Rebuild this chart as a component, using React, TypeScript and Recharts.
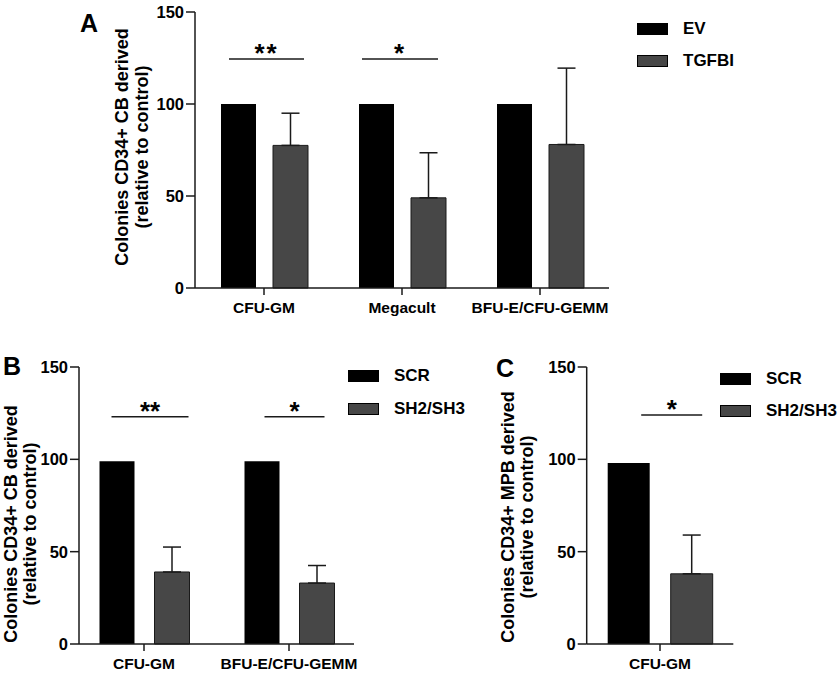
import { BarChart, Bar, XAxis, YAxis, ErrorBar, Legend } from 'recharts';

const FONT = '"Liberation Sans", Arial, Helvetica, sans-serif';
const BLACK = '#000000';
const GREY = '#474747';
const INK = '#1a1a1a';

// Panel A: EV vs TGFBI, CD34+ CB
const categoriesA = ['CFU-GM', 'Megacult', 'BFU-E/CFU-GEMM'];
const evA = [100, 100, 100];
const tgfbiA = [77.5, 49, 78];
const tgfbiErrA = [17.5, 24.5, 41.5];
const sigA = [124.5, 124.5, null];
const starsA = ['**', '*', ''];

// Panel B: SCR vs SH2/SH3, CD34+ CB
const categoriesB = ['CFU-GM', 'BFU-E/CFU-GEMM'];
const scrB = [99, 99];
const shB = [39, 33];
const shErrB = [13.5, 9.5];
const sigB = [123, 123];
const starsB = ['**', '*'];

// Panel C: SCR vs SH2/SH3, CD34+ MPB
const categoriesC = ['CFU-GM'];
const scrC = [98];
const shC = [38];
const shErrC = [21];
const sigC = [124];
const starsC = ['*'];

const yTicks = [0, 50, 100, 150];

function buildRows(
  cats: string[],
  ctrl: number[],
  treat: number[],
  err: number[],
  sig: (number | null)[],
  stars: string[]
) {
  return cats.map((name, i) => ({
    name,
    ctrl: ctrl[i],
    treat: treat[i],
    err: [0, err[i]] as [number, number],
    sig: sig[i],
    stars: stars[i],
  }));
}

type PanelProps = {
  rows: ReturnType<typeof buildRows>;
  names: [string, string];
  box: { left: number; top: number; width: number; height: number };
  margin: { top: number; right: number; bottom: number; left: number };
  barSize: number;
  barGap: number;
  pad: number;
  letter: string;
  title: string[];
  // title layout, relative to the y axis line / plot top
  titleDx: [number, number];
  titleCy: number;
  letterPos: { dx: number; dy: number };
  legendPos: { left: number; top: number };
  sigSpans: { dx: number; w: number }[];
  starSpacing: number;
};

const LegendBox = (props: any) => {
  const items = (props.payload || []).filter((p: any) => p.dataKey !== 'sig');
  return (
    <div style={{ fontFamily: FONT }}>
      {items.map((p: any) => (
        <div key={p.value} style={{ display: 'flex', alignItems: 'center', height: 32.5 }}>
          <span
            style={{
              display: 'inline-block',
              width: 31,
              height: 12,
              background: p.color,
              border: '1px solid #000',
              boxSizing: 'border-box',
              marginRight: 15,
            }}
          />
          <span style={{ fontSize: 17, fontWeight: 700, color: '#000' }}>{p.value}</span>
        </div>
      ))}
    </div>
  );
};

function Panel(p: PanelProps) {
  const yTitle = (lp: any) => {
    const vb = lp.viewBox;
    const axisX = vb.x + vb.width;
    const cy = vb.y + p.titleCy;
    return (
      <g>
        <text
          x={axisX + p.letterPos.dx}
          y={vb.y + p.letterPos.dy}
          fontSize={25}
          fontWeight={700}
          fill="#000"
        >
          {p.letter}
        </text>
        {p.title.map((line, i) => {
          const x = axisX + p.titleDx[i];
          return (
            <text
              key={i}
              x={x}
              y={cy}
              transform={`rotate(-90 ${x} ${cy})`}
              textAnchor="middle"
              dominantBaseline="central"
              fontSize={18}
              fontWeight={700}
              fill="#000"
            >
              {line}
            </text>
          );
        })}
      </g>
    );
  };

  const sigShape = (sp: any) => {
    const { x, y, width, payload, index } = sp;
    if (payload.sig == null) return <g />;
    const span = p.sigSpans[index];
    const cx = x + width / 2 + span.dx;
    return (
      <g>
        <line x1={cx - span.w / 2} x2={cx + span.w / 2} y1={y} y2={y} stroke={INK} strokeWidth={1.5} />
        <text
          x={cx}
          y={y + 3}
          textAnchor="middle"
          fontSize={26}
          fontWeight={700}
          letterSpacing={p.starSpacing}
          fill="#000"
        >
          {payload.stars}
        </text>
      </g>
    );
  };

  return (
    <div style={{ position: 'absolute', left: p.box.left, top: p.box.top }}>
      <BarChart
        width={p.box.width}
        height={p.box.height}
        data={p.rows}
        margin={p.margin}
        barSize={p.barSize}
        barGap={p.barGap}
        style={{ fontFamily: FONT }}
      >
        <XAxis
          dataKey="name"
          height={30}
          padding={{ left: p.pad, right: p.pad }}
          axisLine={{ stroke: INK, strokeWidth: 1.5 }}
          tickLine={{ stroke: INK, strokeWidth: 1.5 }}
          tickSize={7}
          tickMargin={7}
          tick={{ fontSize: 15.5, fontWeight: 700, fill: '#000' }}
          interval={0}
        />
        <XAxis xAxisId="sig" dataKey="name" hide padding={{ left: p.pad, right: p.pad }} />
        <YAxis
          width={60}
          domain={[0, 150]}
          ticks={yTicks}
          interval={0}
          axisLine={{ stroke: INK, strokeWidth: 1.5 }}
          tickLine={{ stroke: INK, strokeWidth: 1.5 }}
          tickSize={9}
          tickMargin={2}
          tick={{ fontSize: 16.5, fontWeight: 700, fill: '#000' }}
          label={yTitle}
        />
        <Bar dataKey="ctrl" name={p.names[0]} fill={BLACK} isAnimationActive={false} />
        <Bar
          dataKey="treat"
          name={p.names[1]}
          fill={GREY}
          stroke={INK}
          strokeWidth={1}
          isAnimationActive={false}
        >
          <ErrorBar dataKey="err" width={9} stroke={INK} strokeWidth={1.5} />
        </Bar>
        <Bar
          dataKey="sig"
          xAxisId="sig"
          barSize={10}
          legendType="none"
          shape={sigShape}
          isAnimationActive={false}
        />
        <Legend
          layout="vertical"
          align="center"
          verticalAlign="middle"
          content={<LegendBox />}
          wrapperStyle={{ left: p.legendPos.left, top: p.legendPos.top, width: 'auto' }}
        />
      </BarChart>
    </div>
  );
}

export default function App() {
  const rowsA = buildRows(categoriesA, evA, tgfbiA, tgfbiErrA, sigA, starsA);
  const rowsB = buildRows(categoriesB, scrB, shB, shErrB, sigB, starsB);
  const rowsC = buildRows(categoriesC, scrC, shC, shErrC, sigC, starsC);

  return (
    <div style={{ position: 'absolute', left: 0, top: 0, width: 840, height: 675, background: '#fff' }}>
      <Panel
        rows={rowsA}
        names={['EV', 'TGFBI']}
        box={{ left: 0, top: 0, width: 840, height: 330 }}
        margin={{ top: 12, right: 231, bottom: 12, left: 135 }}
        barSize={35}
        barGap={17}
        pad={0}
        letter="A"
        title={['Colonies CD34+ CB derived', '(relative to control)']}
        titleDx={[-73, -53]}
        titleCy={135}
        letterPos={{ dx: -115, dy: 20 }}
        legendPos={{ left: 637, top: 12.5 }}
        sigSpans={[
          { dx: 2.5, w: 75 },
          { dx: -2, w: 76 },
          { dx: 0, w: 0 },
        ]}
        starSpacing={2}
      />
      <Panel
        rows={rowsB}
        names={['SCR', 'SH2/SH3']}
        box={{ left: 0, top: 330, width: 420, height: 345 }}
        margin={{ top: 37, right: 66, bottom: 1, left: 19 }}
        barSize={35}
        barGap={20}
        pad={-7.5}
        letter="B"
        title={['Colonies CD34+ CB derived', '(relative to control)']}
        titleDx={[-68.5, -49]}
        titleCy={157}
        letterPos={{ dx: -76, dy: 8 }}
        legendPos={{ left: 348, top: 30 }}
        sigSpans={[
          { dx: 5.5, w: 77 },
          { dx: 5, w: 60 },
        ]}
        starSpacing={0}
      />
      <Panel
        rows={rowsC}
        names={['SCR', 'SH2/SH3']}
        box={{ left: 480, top: 330, width: 360, height: 345 }}
        margin={{ top: 37, right: 106.7, bottom: 1, left: 46.7 }}
        barSize={42}
        barGap={21}
        pad={0}
        letter="C"
        title={['Colonies CD34+ MPB derived', '(relative to control)']}
        titleDx={[-78.4, -60]}
        titleCy={150}
        letterPos={{ dx: -90.7, dy: 9.5 }}
        legendPos={{ left: 240, top: 32.7 }}
        sigSpans={[{ dx: 12, w: 61 }]}
        starSpacing={0}
      />
    </div>
  );
}
